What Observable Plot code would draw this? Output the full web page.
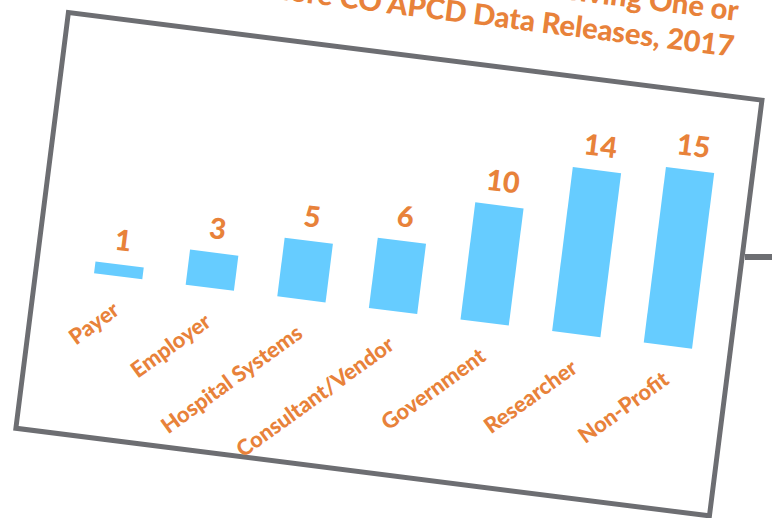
<!DOCTYPE html>
<html>
<head>
<meta charset="utf-8">
<script src="https://cdn.jsdelivr.net/npm/d3@7"></script>
<script src="https://cdn.jsdelivr.net/npm/@observablehq/plot@0.6"></script>
<style>
  html, body { margin: 0; padding: 0; background: #fff; overflow: hidden; }
  body { width: 772px; height: 518px; position: relative; font-family: Lato, "Open Sans", sans-serif; }
  #slide { position: absolute; left: 68px; top: 12px; width: 704px; height: 422px;
           transform-origin: 0 0; transform: rotate(7.2deg); }
  #title { position: absolute; right: 39px; top: -104px; text-align: right; white-space: nowrap;
           color: #E8823A; font-weight: 900; font-size: 29px; line-height: 36px; }
  #chart { position: absolute; left: -5px; top: -5px; }
  #chart svg { display: block; background: transparent; }
  #connector { position: absolute; left: 745px; top: 254px; width: 40px; height: 6px; background: #6D6E72; }
</style>
</head>
<body>
<div id="connector"></div>
<div id="slide">
  <div id="title">Organizations Receiving One or<br>More CO APCD Data Releases, 2017</div>
  <div id="chart"></div>
</div>
<script>
const categories = ["Payer", "Employer", "Hospital Systems", "Consultant/Vendor", "Government", "Researcher", "Non-Profit"];
const counts = [1, 3, 5, 6, 10, 14, 15];

const data = categories.map((c, i) => ({category: c, count: counts[i]}));
const orange = "#E8823A";

const chart = Plot.plot({
  width: 714,
  height: 432,
  marginTop: 5, marginBottom: 5, marginLeft: 5, marginRight: 5,
  style: {background: "transparent", fontFamily: "Lato, 'Open Sans', sans-serif"},
  x: {domain: categories, range: [61.5, 672.5], paddingInner: 0.477, paddingOuter: 0, axis: null},
  y: {domain: [0, 15], range: [262.7, 84.4], axis: null},
  marks: [
    Plot.frame({stroke: "#6D6E72", strokeWidth: 5}),
    Plot.barY(data, {x: "category", y: "count", fill: "#66CCFF"}),
    Plot.text(data, {x: "category", y: "count", text: d => String(d.count), dy: -24,
      fill: orange, fontSize: 29, fontWeight: 900}),
    Plot.text(data, {x: "category", y: () => 0, text: "category", dy: 31, dx: 2, rotate: -43,
      textAnchor: "end", fill: orange, fontSize: 22, fontWeight: 900})
  ]
});
document.getElementById("chart").appendChild(chart);
</script>
</body>
</html>
